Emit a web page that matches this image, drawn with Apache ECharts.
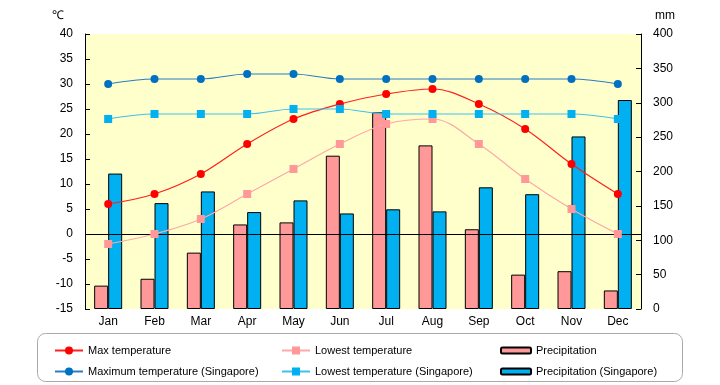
<!DOCTYPE html>
<html><head><meta charset="utf-8">
<script src="https://cdn.jsdelivr.net/npm/echarts@6/dist/echarts.min.js"></script>
<style>html,body{margin:0;padding:0;background:#fff;}#c{width:720px;height:385px;}</style>
</head><body><div id="c"></div>
<script>
var months = ['Jan','Feb','Mar','Apr','May','Jun','Jul','Aug','Sep','Oct','Nov','Dec'];
var maxTemp = [6, 8, 12, 18, 23, 26, 28, 29, 26, 21, 14, 8];
var lowTemp = [-2, 0, 3, 8, 13, 18, 22, 23, 18, 11, 5, 0];
var precip = [34, 44, 82, 123, 126, 223, 286, 238, 116, 50, 55, 27];
var maxTempSG = [30, 31, 31, 32, 32, 31, 31, 31, 31, 31, 31, 30];
var lowTempSG = [23, 24, 24, 24, 25, 25, 24, 24, 24, 24, 24, 23];
var precipSG = [197, 154, 171, 141, 158, 139, 145, 142, 177, 167, 251, 304];
var tempTicks = {min: -15, max: 40, interval: 5};
var rainTicks = {min: 0, max: 400, interval: 50};

var FONT = 'Liberation Sans';
var chart = echarts.init(document.getElementById('c'));
function lineSeries(name, data, color, lineColor, symbol, size, extra) {
  var s = {
    name: name, type: 'line', yAxisIndex: 0, data: data, smooth: 0.35,
    symbol: symbol, symbolSize: size, z: 5,
    itemStyle: {color: color},
    lineStyle: {color: lineColor, width: 1.2},
    emphasis: {disabled: true}
  };
  if (extra) for (var k in extra) s[k] = extra[k];
  return s;
}
function barSeries(name, data, color) {
  return {
    name: name, type: 'bar', yAxisIndex: 1, data: data, barWidth: 14, barGap: '0%', z: 2,
    itemStyle: {color: color, borderColor: '#000', borderWidth: 1},
    emphasis: {disabled: true}
  };
}
function legend(left, names, iw, ih) {
  return {
    left: left, top: 340, orient: 'vertical', itemGap: 10, itemWidth: iw, itemHeight: ih,
    data: names, selectedMode: false,
    textStyle: {fontFamily: FONT, fontSize: 11, color: '#000'}
  };
}
chart.setOption({
  animation: false,
  textStyle: {fontFamily: FONT},
  graphic: [
    {type: 'rect', shape: {x: 37.5, y: 333.5, width: 645, height: 48, r: 8}, style: {fill: '#fff', stroke: '#aaaaaa', lineWidth: 1}, z: -10},
    {type: 'text', left: 52, top: 10, style: {text: '℃', font: '12px ' + FONT, fill: '#000'}},
    {type: 'text', left: 655, top: 10, style: {text: 'mm', font: '12px ' + FONT, fill: '#000'}}
  ],
  grid: {left: 85, right: 79, top: 34, bottom: 76, show: true, backgroundColor: '#FFFFCC', borderWidth: 0},
  legend: [
    legend(49, ['Max temperature', 'Maximum temperature (Singapore)'], 28, 10),
    legend(276, ['Lowest temperature', 'Lowest temperature (Singapore)'], 28, 10),
    legend(495, ['Precipitation', 'Precipitation (Singapore)'], 30, 6)
  ],
  xAxis: {
    type: 'category', data: months, boundaryGap: true,
    axisLine: {show: false}, axisTick: {show: false},
    axisLabel: {color: '#000', fontSize: 12, margin: 7, fontFamily: FONT}
  },
  yAxis: [
    {type: 'value', position: 'left', min: tempTicks.min, max: tempTicks.max, interval: tempTicks.interval,
     axisLine: {show: true, lineStyle: {color: '#000'}},
     axisTick: {show: true, inside: true, length: 5, lineStyle: {color: '#000'}},
     axisLabel: {color: '#000', fontSize: 12, margin: 12, fontFamily: FONT},
     splitLine: {show: false}},
    {type: 'value', position: 'right', min: rainTicks.min, max: rainTicks.max, interval: rainTicks.interval,
     axisLine: {show: true, lineStyle: {color: '#000'}},
     axisTick: {show: true, inside: true, length: 5, lineStyle: {color: '#000'}},
     axisLabel: {color: '#000', fontSize: 12, margin: 12, fontFamily: FONT},
     splitLine: {show: false}}
  ],
  series: [
    lineSeries('Max temperature', maxTemp, '#FF0000', '#FF2020', 'circle', 8, {
      markLine: {silent: true, symbol: 'none', label: {show: false}, z: 4,
        lineStyle: {color: '#000', width: 1, type: 'solid'}, data: [{yAxis: 0}]}
    }),
    lineSeries('Lowest temperature', lowTemp, '#FF9999', '#FFA8A8', 'rect', 8),
    barSeries('Precipitation', precip, '#FF9999'),
    lineSeries('Maximum temperature (Singapore)', maxTempSG, '#0070C0', '#2A7CC4', 'circle', 8),
    lineSeries('Lowest temperature (Singapore)', lowTempSG, '#00B0F0', '#40C0EC', 'rect', 8),
    barSeries('Precipitation (Singapore)', precipSG, '#00B0F0')
  ]
});
</script></body></html>
